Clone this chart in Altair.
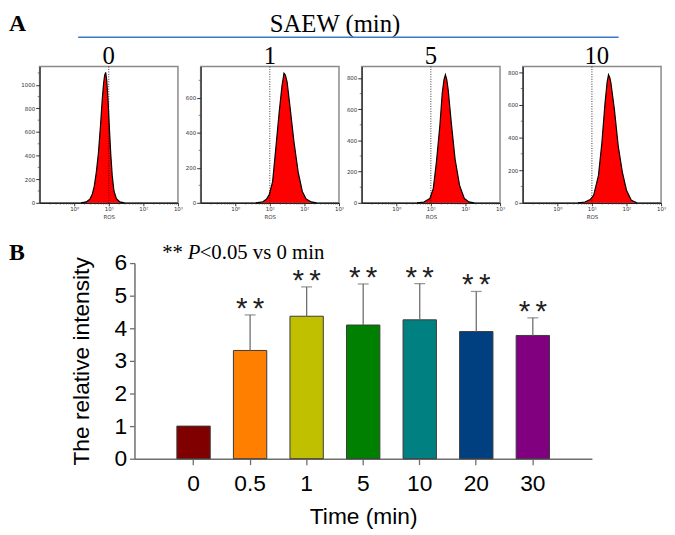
import altair as alt
import pandas as pd
import numpy as np

# ---------------- Panel A: flow-cytometry histograms ----------------
panel_labels = ["0", "1", "5", "10"]
panel_label_dx = [0, 0, 0, 5]
y_max = [1155, 779, 874, 835]
y_major = [[0, 200, 400, 600, 800, 1000],
           [0, 200, 400, 600],
           [0, 200, 400, 600, 800],
           [0, 200, 400, 600, 800]]

h0_logx = [0.2, 0.35, 0.45, 0.52, 0.58, 0.64, 0.70, 0.76, 0.81, 0.85, 0.88, 0.91,
           0.94, 0.98, 1.02, 1.06, 1.10, 1.15, 1.22, 1.32, 1.45]
h0_count = [0, 8, 30, 70, 140, 260, 420, 650, 870, 1010, 1080, 1105,
            1040, 860, 620, 400, 230, 100, 35, 8, 0]

h1_logx = [0.6, 0.8, 0.9, 0.98, 1.08, 1.17, 1.27, 1.35, 1.41, 1.45, 1.50, 1.58,
           1.70, 1.82, 1.94, 2.05, 2.2, 2.35]
h1_count = [0, 6, 20, 45, 120, 305, 515, 665, 740, 730, 690, 555,
            345, 175, 65, 22, 5, 0]

h2_logx = [0.6, 0.8, 0.97, 1.07, 1.16, 1.26, 1.33, 1.38, 1.42, 1.46, 1.50, 1.59,
           1.70, 1.83, 1.97, 2.1, 2.25]
h2_count = [0, 5, 27, 91, 260, 493, 705, 790, 821, 790, 726, 514,
            281, 112, 27, 6, 0]

h3_logx = [0.6, 0.8, 0.95, 1.05, 1.19, 1.29, 1.38, 1.44, 1.48, 1.52, 1.55, 1.65,
           1.76, 1.88, 2.0, 2.14, 2.3]
h3_count = [0, 5, 20, 46, 168, 370, 612, 740, 784, 765, 733, 572,
            349, 188, 77, 16, 0]

hist_logx = [h0_logx, h1_logx, h2_logx, h3_logx]
hist_count = [h0_count, h1_count, h2_count, h3_count]
gate_logx = 1  # dotted marker at 10^1

# ---------------- Panel B: bar chart ----------------
times = ["0", "0.5", "1", "5", "10", "20", "30"]
means = [1.0, 3.32, 4.37, 4.10, 4.26, 3.90, 3.78]
uppers = [None, 4.41, 5.27, 5.36, 5.37, 5.13, 4.32]
stars = ["", "*", "*", "*", "*", "*", "*"]
bar_colors = ["#800000", "#FF8000", "#C0C000", "#008000", "#008080", "#004080", "#800080"]

SERIF = "Liberation Serif"
SANS = "Liberation Sans"
SMALL = "DejaVu Sans"

PW, PH = 140, 138  # histogram panel size

minor_x = [d + np.log10(k) for d in (-1, 0, 1, 2) for k in range(2, 10)]
minor_x = [v for v in minor_x if -1 < v < 3]


def hist_panel(i):
    df = pd.DataFrame({"logx": hist_logx[i], "count": hist_count[i]})
    xs = alt.Scale(domain=[-1, 3], nice=False, zero=False)
    ys = alt.Scale(domain=[0, y_max[i]], nice=False)
    xaxis = alt.Axis(values=[0, 1, 2, 3],
                     labelExpr="'10' + (datum.value == 0 ? '⁰' : datum.value == 1 ? '¹' : datum.value == 2 ? '²' : '³')",
                     title="ROS", titleFont=SMALL, titleFontSize=5.5, titleFontWeight="normal",
                     titleColor="#333", titlePadding=2,
                     labelFont=SMALL, labelFontSize=5.5, labelColor="#333", labelPadding=1,
                     labelOverlap=False,
                     tickSize=3, tickColor="#333", domainColor="#222", domainWidth=1.2, grid=False,
                     labelFlush=False)
    yaxis = alt.Axis(values=y_major[i], format="d", title=None, labelFont=SMALL, labelFontSize=5.5,
                     labelColor="#333", labelPadding=1, tickSize=4, tickColor="#333",
                     labelOverlap=False,
                     domainColor="#222", domainWidth=1.2, grid=False)
    area = alt.Chart(df).mark_area(
        color="#FF0000", opacity=1,
        line=alt.OverlayMarkDef(color="black", strokeWidth=1.2)
    ).encode(
        x=alt.X("logx:Q", scale=xs, axis=xaxis),
        y=alt.Y("count:Q", scale=ys, axis=yaxis),
    )
    gate = alt.Chart(pd.DataFrame({"g": [gate_logx]})).mark_rule(
        color="black", strokeDash=[1, 1.5], strokeWidth=0.8
    ).encode(x=alt.X("g:Q", scale=xs, axis=xaxis))
    mx = alt.Chart(pd.DataFrame({"m": minor_x})).mark_rule(color="#333", strokeWidth=0.6).encode(
        x=alt.X("m:Q", scale=xs, axis=xaxis), y=alt.value(PH), y2=alt.value(PH + 1.8))
    ymin = [v + 100 for v in y_major[i] if v + 100 < y_max[i]]
    my = alt.Chart(pd.DataFrame({"m": ymin})).mark_rule(color="#333", strokeWidth=0.6).encode(
        y=alt.Y("m:Q", scale=ys, axis=yaxis), x=alt.value(0), x2=alt.value(-2))
    ttl = alt.Chart(pd.DataFrame({"t": [panel_labels[i]]})).mark_text(
        font=SERIF, fontSize=25, baseline="alphabetic", align="center", color="black"
    ).encode(text="t:N", x=alt.value(PW / 2 + panel_label_dx[i]), y=alt.value(-3))
    layers = [area, gate, mx, my, ttl]
    if i == 0:
        letter = alt.Chart(pd.DataFrame({"t": ["A"]})).mark_text(
            font=SERIF, fontSize=24, fontWeight="bold", align="left", baseline="alphabetic"
        ).encode(text="t:N", x=alt.value(-31), y=alt.value(-36))
        head = alt.Chart(pd.DataFrame({"t": ["SAEW (min)"]})).mark_text(
            font=SERIF, fontSize=25, align="center", baseline="alphabetic"
        ).encode(text="t:N", x=alt.value(299), y=alt.value(-35))
        line = alt.Chart(pd.DataFrame({"t": [0]})).mark_rule(color="#3A78C9", strokeWidth=1.5).encode(
            x=alt.value(39), x2=alt.value(586), y=alt.value(-29.5))
        layers += [letter, head, line]
    return alt.layer(*layers).properties(
        width=PW, height=PH,
        view=alt.ViewBackground(stroke="#8a8a8a", strokeWidth=1.5))


top = alt.hconcat(*[hist_panel(i) for i in range(4)], spacing=23, bounds="flush")

# ---------------- bar chart ----------------
bar_df = pd.DataFrame({"time": times, "mean": means, "upper": uppers,
                       "star": stars, "color": bar_colors})
xsc = alt.Scale(domain=times, paddingInner=0.41, paddingOuter=0.75)
ysc = alt.Scale(domain=[0, 6], nice=False)
xax = alt.Axis(title="Time (min)", titleFont=SANS, titleFontSize=23, titleFontWeight="normal",
               titleColor="black", titlePadding=11,
               labelFont=SANS, labelFontSize=23, labelColor="black", labelPadding=8, labelAngle=0,
               labelOverlap=False,
               tickSize=6, tickColor="#6e6e6e", tickWidth=1.3, domainColor="#6e6e6e", domainWidth=1.5)
yax = alt.Axis(values=[0, 1, 2, 3, 4, 5, 6], title="The relative intensity", titleFont=SANS,
               titleFontSize=23, titleFontWeight="normal", titleColor="black", titlePadding=21,
               labelFont=SANS, labelFontSize=23, labelColor="black", labelPadding=3,
               labelOverlap=False,
               tickSize=5, tickColor="#6e6e6e", tickWidth=1.3, domainColor="#6e6e6e",
               domainWidth=1.5, grid=False)

base = alt.Chart(bar_df).encode(x=alt.X("time:N", sort=times, scale=xsc, axis=xax))
bars = base.mark_bar(stroke="#3a3a3a", strokeWidth=1).encode(
    y=alt.Y("mean:Q", scale=ysc, axis=yax),
    color=alt.Color("color:N", scale=None, legend=None))
valid = base.transform_filter("isValid(datum.upper)")
errs = valid.mark_rule(color="#6e6e6e", strokeWidth=1.3).encode(
    y=alt.Y("mean:Q", scale=ysc, axis=yax), y2="upper:Q")
caps = valid.mark_tick(
    color="#6e6e6e", thickness=1.3, size=11, orient="horizontal").encode(
    y=alt.Y("upper:Q", scale=ysc, axis=yax))
star_l = valid.mark_text(font=SANS, fontSize=30, baseline="alphabetic", dy=3, dx=-8.5,
                         color="#222").encode(y=alt.Y("upper:Q", scale=ysc, axis=yax), text="star:N")
star_r = valid.mark_text(font=SANS, fontSize=30, baseline="alphabetic", dy=3, dx=8.5,
                         color="#222").encode(y=alt.Y("upper:Q", scale=ysc, axis=yax), text="star:N")

note_stars = alt.Chart(pd.DataFrame({"t": ["**"]})).mark_text(
    font=SERIF, fontSize=21, align="left", baseline="alphabetic").encode(
    text="t:N", x=alt.value(28), y=alt.value(-4))
note_p = alt.Chart(pd.DataFrame({"t": ["P"]})).mark_text(
    font=SERIF, fontSize=21, fontStyle="italic", align="left", baseline="alphabetic").encode(
    text="t:N", x=alt.value(54), y=alt.value(-4))
note_rest = alt.Chart(pd.DataFrame({"t": ["<0.05 vs 0 min"]})).mark_text(
    font=SERIF, fontSize=21, align="left", baseline="alphabetic").encode(
    text="t:N", x=alt.value(66), y=alt.value(-4))

bar_chart = alt.layer(bars, errs, caps, star_l, star_r, note_stars, note_p, note_rest).properties(
    width=463, height=198)

spacer = alt.Chart(pd.DataFrame({"t": ["B"]})).mark_text(
    font=SERIF, fontSize=24, fontWeight="bold", align="left", baseline="alphabetic").encode(
    text="t:N", x=alt.value(-31), y=alt.value(-3)).properties(width=96, height=198)

bottom = alt.hconcat(spacer, bar_chart, spacing=0, bounds="flush")

chart = alt.vconcat(top, bottom, spacing=199, bounds="flush").properties(
    padding=0, background="white"
).configure_view(stroke=None)

chart.save("out.html", embed_options={"renderer": "svg", "actions": False})
